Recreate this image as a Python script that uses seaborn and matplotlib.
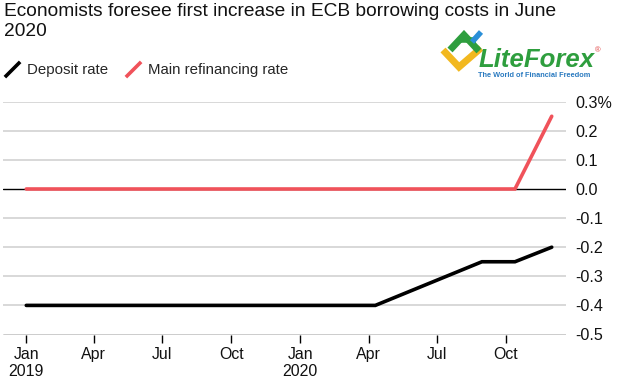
import matplotlib
matplotlib.use("Agg")
import matplotlib.pyplot as plt
from matplotlib.lines import Line2D
import seaborn as sns
import pandas as pd

# ---- data ----
deposit_dates = ["2019-01-01", "2020-04-10", "2020-08-30", "2020-10-13", "2020-12-01"]
deposit_rate = [-0.40, -0.40, -0.25, -0.25, -0.20]
refi_dates = ["2019-01-01", "2020-10-13", "2020-12-01"]
refi_rate = [0.0, 0.0, 0.25]
series_names = ["Deposit rate", "Main refinancing rate"]
series_colors = ["#000000", "#f0525a"]
y_ticks = [0.3, 0.2, 0.1, 0.0, -0.1, -0.2, -0.3, -0.4, -0.5]
y_labels = ["0.3%", "0.2", "0.1", "0.0", "-0.1", "-0.2", "-0.3", "-0.4", "-0.5"]
x_tick_dates = ["2019-01-01", "2019-04-01", "2019-07-01", "2019-10-01",
                "2020-01-01", "2020-04-01", "2020-07-01", "2020-10-01"]
x_tick_labels = ["Jan\n2019", "Apr", "Jul", "Oct", "Jan\n2020", "Apr", "Jul", "Oct"]
title = "Economists foresee first increase in ECB borrowing costs in June\n2020"

df = pd.concat([
    pd.DataFrame({"date": pd.to_datetime(deposit_dates), "rate": deposit_rate,
                  "series": series_names[0]}),
    pd.DataFrame({"date": pd.to_datetime(refi_dates), "rate": refi_rate,
                  "series": series_names[1]}),
])

sns.set_style("white")
plt.rcParams["font.family"] = ["Liberation Sans", "DejaVu Sans"]

W, H = 619, 380
fig = plt.figure(figsize=(W / 100, H / 100), dpi=100)
ax = fig.add_axes([3 / W, 1 - 334.5 / H, (566 - 3) / W, (334.5 - 101.7) / H])

# grid lines
for t in y_ticks:
    if t in (0.0, -0.5):
        ax.axhline(t, color="#000000", lw=1.0, zorder=1)
    else:
        ax.axhline(t, color="#d6d6d6", lw=1.3, zorder=1)

sns.lineplot(data=df, x="date", y="rate", hue="series", palette=series_colors,
             hue_order=series_names, linewidth=2.6, ax=ax, legend=False, zorder=3)
for l in ax.lines[-2:]:
    l.set_solid_capstyle("round")
    l.set_solid_joinstyle("miter")

ax.set_xlim(pd.Timestamp("2018-12-01"), pd.Timestamp("2020-12-20"))
ax.set_ylim(-0.5, 0.3)
ax.set_xlabel("")
ax.set_ylabel("")

for s in ax.spines.values():
    s.set_visible(False)

ax.yaxis.tick_right()
ax.set_yticks(y_ticks)
ax.set_yticklabels(y_labels)
ax.tick_params(axis="y", length=0, pad=7, labelsize=11.6, labelcolor="#111111")

ax.set_xticks(pd.to_datetime(x_tick_dates))
ax.set_xticklabels(x_tick_labels, linespacing=1.15)
ax.tick_params(axis="x", direction="out", length=6, width=1, color="#000000",
               pad=3, labelsize=11.4, labelcolor="#111111", bottom=True)
for lab in ax.get_xticklabels():
    lab.set_horizontalalignment("center")

# title
fig.text(4 / W, 1 - 3 / H, title, ha="left", va="top", fontsize=13.8,
         color="#111111", linespacing=1.25)

# legend with diagonal slash markers
slash = [(-1, -1), (1, 1)]
handles = [Line2D([], [], color=c, marker=slash, linestyle="None",
                  markersize=11, markeredgewidth=2.6) for c in series_colors]
fig.legend(handles, series_names, loc="center left",
           bbox_to_anchor=(-1 / W, 1 - 70 / H), ncol=2, frameon=False,
           fontsize=10.8, handlelength=0.9, handletextpad=0.55,
           columnspacing=1.25, borderaxespad=0)

# LiteForex logo (watermark)
def fl(pts, color, lw):
    xs = [p[0] / W for p in pts]
    ys = [1 - p[1] / H for p in pts]
    fig.add_artist(Line2D(xs, ys, color=color, lw=lw, solid_capstyle="butt",
                          solid_joinstyle="miter", transform=fig.transFigure))

fl([(443, 50), (459, 67), (481, 48)], "#f2b81f", 5)
fl([(450, 50), (464, 35), (479, 51)], "#2e9e3e", 5)
fl([(461, 40), (476, 40)], "#2e9e3e", 4)
fl([(472, 42), (481, 32)], "#2a8fd8", 4)
fig.text(479 / W, 1 - 60 / H, "LiteForex", fontsize=18.5, fontweight="bold",
         fontstyle="italic", color="#2e9e3e", ha="left", va="center")
fig.text(595 / W, 1 - 51 / H, "®", fontsize=5.5, color="#e04040", ha="left", va="center")
fig.text(478 / W, 1 - 75.5 / H, "The World of Financial Freedom", fontsize=5.3,
         fontweight="bold", color="#2a7ac0", ha="left", va="center")

fig.savefig("out.png", dpi=100, facecolor="white")
